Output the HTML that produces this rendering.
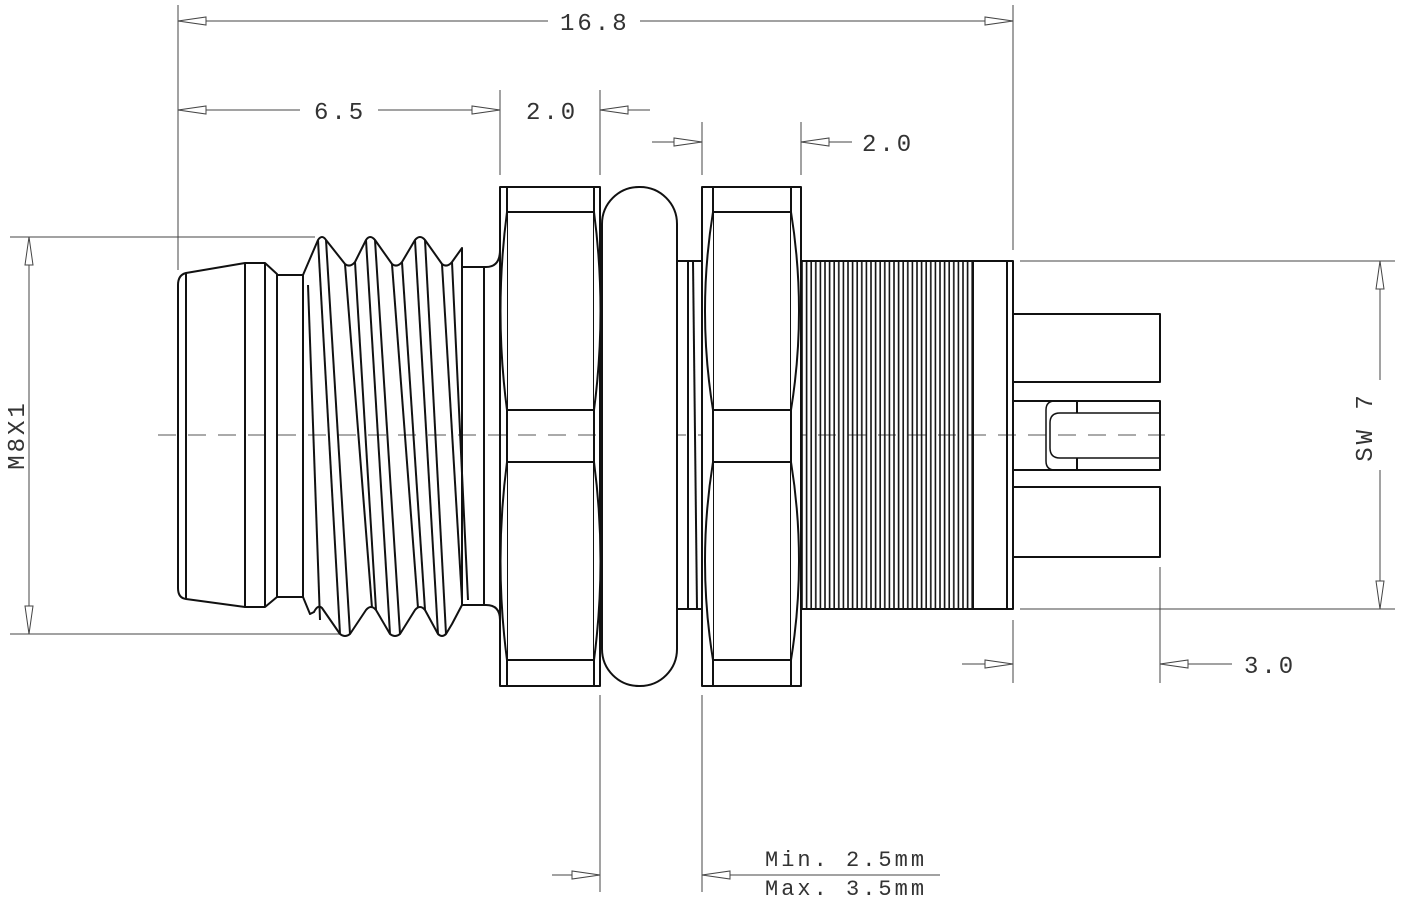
<!DOCTYPE html>
<html><head><meta charset="utf-8"><style>
html,body{margin:0;padding:0;background:#fff;}
svg{display:block}
text{font-family:"Liberation Mono","DejaVu Sans Mono",monospace;font-size:24px;fill:#333;letter-spacing:3px}
</style></head><body>
<svg width="1403" height="904" viewBox="0 0 1403 904" xmlns="http://www.w3.org/2000/svg">
<defs>
<pattern id="kn" x="801" y="0" width="4.6" height="10" patternUnits="userSpaceOnUse">
<line x1="1" y1="0" x2="1" y2="10" stroke="#111" stroke-width="1.6"/>
</pattern>
</defs>
<g fill="none" stroke="#444" stroke-width="1">
<line x1="178" y1="5" x2="178" y2="270"/>
<line x1="1013" y1="5" x2="1013" y2="250"/>
<line x1="500" y1="90" x2="500" y2="175"/>
<line x1="600" y1="90" x2="600" y2="175"/>
<line x1="702" y1="122" x2="702" y2="175"/>
<line x1="801" y1="122" x2="801" y2="175"/>
<line x1="10" y1="237" x2="315" y2="237"/>
<line x1="10" y1="634" x2="340" y2="634"/>
<line x1="1020" y1="261" x2="1395" y2="261"/>
<line x1="1020" y1="609" x2="1395" y2="609"/>
<line x1="1013" y1="620" x2="1013" y2="683"/>
<line x1="1160" y1="567" x2="1160" y2="683"/>
<line x1="600" y1="695" x2="600" y2="892"/>
<line x1="702" y1="695" x2="702" y2="892"/>
<line x1="178" y1="21" x2="548" y2="21"/><line x1="640" y1="21" x2="1013" y2="21"/>
<line x1="178" y1="110" x2="300" y2="110"/><line x1="378" y1="110" x2="500" y2="110"/>
<line x1="600" y1="110" x2="650" y2="110"/>
<line x1="652" y1="142" x2="702" y2="142"/>
<line x1="801" y1="142" x2="852" y2="142"/>
<line x1="29" y1="237" x2="29" y2="634"/>
<line x1="1380" y1="261" x2="1380" y2="380"/><line x1="1380" y1="470" x2="1380" y2="609"/>
<line x1="962" y1="664" x2="1013" y2="664"/>
<line x1="1160" y1="664" x2="1232" y2="664"/>
<line x1="552" y1="875" x2="600" y2="875"/>
<line x1="702" y1="875" x2="940" y2="875"/>
<line x1="158" y1="435" x2="1165" y2="435" stroke="#555" stroke-dasharray="18,12"/>
</g>
<g fill="#fff" stroke="#444" stroke-width="1">
<polygon points="178,21 206,17 206,25"/><polygon points="1013,21 985,17 985,25"/>
<polygon points="178,110 206,106 206,114"/><polygon points="500,110 472,106 472,114"/>
<polygon points="600,110 628,106 628,114"/>
<polygon points="702,142 674,138 674,146"/><polygon points="801,142 829,138 829,146"/>
<polygon points="29,237 25,265 33,265"/><polygon points="29,634 25,606 33,606"/>
<polygon points="1380,261 1376,289 1384,289"/><polygon points="1380,609 1376,581 1384,581"/>
<polygon points="1013,664 985,660 985,668"/><polygon points="1160,664 1188,660 1188,668"/>
<polygon points="600,875 572,871 572,879"/><polygon points="702,875 730,871 730,879"/>
</g>
<text x="560" y="30">16.8</text>
<text x="314" y="119">6.5</text>
<text x="526" y="119">2.0</text>
<text x="862" y="151">2.0</text>
<text x="1244" y="673">3.0</text>
<text x="765" y="866" style="font-size:22px">Min. 2.5mm</text>
<text x="765" y="895" style="font-size:22px">Max. 3.5mm</text>
<text transform="translate(24,435) rotate(-90)" text-anchor="middle">M8X1</text>
<text transform="translate(1372,427) rotate(-90)" text-anchor="middle">SW 7</text>

<g fill="none" stroke="#111" stroke-width="2" stroke-linejoin="round">
<path d="M245,263 L186,273 Q178,275 178,285 L178,588 Q178,598 186,599 L245,607 Z"/>
<line x1="186" y1="273" x2="186" y2="599"/>
<path d="M245,263 L265,263 L277,274 L277,597 L265,607 L245,607"/>
<line x1="265" y1="263" x2="265" y2="607"/>
<path d="M277,275 L303,275 L303,597 L277,597"/>
<path d="M303,275 L318,240 Q322,234 326,240 L345,264 Q350,268 355,262 L366,240 Q370,234 375,240 L392,264 Q397,268 402,262 L415,240 Q420,234 425,240 L442,264 Q447,268 452,262 L462,248 L462,605 L452,624 L446,634 Q442,638 438,634 L425,610 Q420,604 415,610 L400,634 Q395,638 390,634 L376,610 Q371,604 366,610 L350,634 Q345,638 340,634 L322,608 Q318,604 314,612 L310,614 L303,597"/>
<path d="M308,285 L320,620"/><path d="M318,240 L340,634"/><path d="M326,240 L350,634"/>
<path d="M345,264 L372,608"/><path d="M355,262 L376,610"/>
<path d="M366,240 L390,634"/><path d="M375,240 L400,634"/>
<path d="M392,264 L418,608"/><path d="M402,262 L425,610"/>
<path d="M415,240 L438,634"/><path d="M425,240 L446,634"/>
<path d="M442,264 L462,600"/><path d="M452,262 L468,600"/>
<path d="M462,267 L486,267 Q500,267 500,250 M462,605 L486,605 Q500,605 500,620"/>
<line x1="484" y1="267" x2="484" y2="605"/>
<rect x="500" y="187" width="100" height="499"/>
<line x1="507" y1="187" x2="507" y2="686"/><line x1="594" y1="187" x2="594" y2="686"/>
<line x1="507" y1="212" x2="594" y2="212"/><line x1="507" y1="410" x2="594" y2="410"/>
<line x1="507" y1="462" x2="594" y2="462"/><line x1="507" y1="660" x2="594" y2="660"/>
<path d="M507,212 Q494,311 507,410 M594,212 Q607,311 594,410 M507,462 Q494,561 507,660 M594,462 Q607,561 594,660" fill="#fff"/>
<rect x="602" y="187" width="75" height="499" rx="37" ry="37" fill="#fff"/>
<path d="M677,261 L702,261 M677,609 L702,609"/>
<line x1="688" y1="261" x2="688" y2="609"/><line x1="693" y1="261" x2="697" y2="609"/>
<rect x="702" y="187" width="99" height="499" fill="#fff"/>
<line x1="713" y1="187" x2="713" y2="686"/><line x1="791" y1="187" x2="791" y2="686"/>
<line x1="713" y1="212" x2="791" y2="212"/><line x1="713" y1="410" x2="791" y2="410"/>
<line x1="713" y1="462" x2="791" y2="462"/><line x1="713" y1="660" x2="791" y2="660"/>
<path d="M713,212 Q697,311 713,410 M791,212 Q807,311 791,410 M713,462 Q697,561 713,660 M791,462 Q807,561 791,660" fill="#fff"/>
<line x1="702" y1="187" x2="702" y2="686"/><line x1="801" y1="187" x2="801" y2="686"/>
<rect x="801" y="261" width="172" height="348" fill="url(#kn)" stroke="none"/>
<path d="M801,261 L1013,261 L1013,609 L801,609"/>
<line x1="973" y1="261" x2="973" y2="609"/>
<line x1="1007" y1="261" x2="1007" y2="609"/>
<path d="M1013,314 L1160,314 L1160,382 L1013,382"/>
<path d="M1013,401 L1160,401 L1160,470 L1013,470"/>
<path d="M1013,487 L1160,487 L1160,557 L1013,557"/>
<path d="M1075,401 L1055,401 Q1046,401 1046,410 L1046,461 Q1046,470 1055,470 L1075,470" stroke-width="1.5"/>
<path d="M1160,413 L1060,413 Q1050,413 1050,423 L1050,448 Q1050,458 1060,458 L1160,458" stroke-width="1.5"/>
<line x1="1077" y1="401" x2="1077" y2="413"/><line x1="1077" y1="458" x2="1077" y2="470"/>
</g>
</svg>
</body></html>
